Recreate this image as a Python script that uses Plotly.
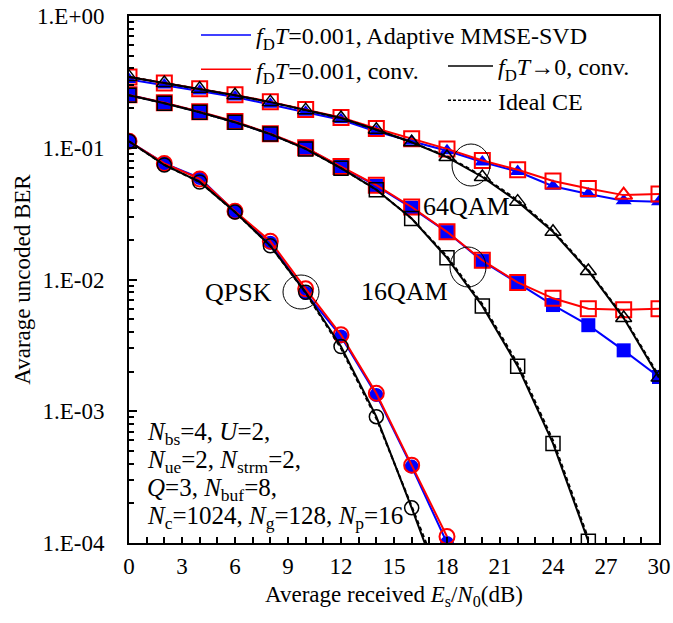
import plotly.graph_objects as go

# ---------------- data ----------------
snr = [0, 2, 4, 6, 8, 10, 12, 14, 16, 18, 20, 22, 24, 26, 28, 30]
snr_qpsk = [0, 2, 4, 6, 8, 10, 12, 14, 16, 18]
snr_16ideal = [0, 2, 4, 6, 8, 10, 12, 14, 16, 18, 20, 22, 24, 26]

qpsk_adapt = [0.112, 0.076, 0.059, 0.0325, 0.019, 0.0079, 0.0037, 0.00133, 0.00038, 0.000100]
qpsk_conv = [0.112, 0.076, 0.058, 0.033, 0.0195, 0.0085, 0.0038, 0.00137, 0.00039, 0.000112]
qpsk_zero = [0.112, 0.074, 0.055, 0.0325, 0.018, 0.0080, 0.0031, 0.00091, 0.000185, 0.000035]
qpsk_ideal = [0.112, 0.074, 0.055, 0.0325, 0.018, 0.0079, 0.0030, 0.00088, 0.00019, 0.00004]

q16_adapt = [0.251, 0.219, 0.187, 0.157, 0.127, 0.0996, 0.0714, 0.0513, 0.035, 0.0229,
             0.0138, 0.0094, 0.0064, 0.0045, 0.0029, 0.00182]
q16_conv = [0.252, 0.220, 0.188, 0.158, 0.128, 0.100, 0.072, 0.052, 0.0355, 0.023,
            0.0140, 0.0095, 0.0072, 0.0060, 0.0059, 0.0060]
q16_zero = [0.250, 0.218, 0.186, 0.156, 0.127, 0.098, 0.070, 0.048, 0.029, 0.0146,
            0.0063, 0.0022, 0.00057, 0.000103]
q16_ideal = [0.250, 0.218, 0.186, 0.156, 0.127, 0.098, 0.070, 0.048, 0.029, 0.0150,
             0.0065, 0.0023, 0.00060, 0.000108]

q64_adapt = [0.33, 0.30, 0.27, 0.243, 0.214, 0.186, 0.163, 0.133, 0.112, 0.095,
             0.078, 0.066, 0.051, 0.0446, 0.0396, 0.039]
q64_conv = [0.345, 0.31, 0.28, 0.252, 0.223, 0.195, 0.170, 0.140, 0.117, 0.098,
            0.080, 0.068, 0.056, 0.049, 0.0437, 0.0446]
q64_zero = [0.345, 0.31, 0.28, 0.25, 0.222, 0.193, 0.168, 0.137, 0.110, 0.085,
            0.060, 0.039, 0.023, 0.0116, 0.0051, 0.0018]
q64_ideal = [0.345, 0.31, 0.28, 0.25, 0.222, 0.193, 0.168, 0.137, 0.110, 0.086,
             0.061, 0.040, 0.0235, 0.0118, 0.0052, 0.00185]
q64_conv_symbols = ["square-open"] * 14 + ["triangle-up-open", "square-open"]

ytick_vals = [1, 0.1, 0.01, 0.001, 0.0001]
ytick_text = ["1.E+00", "1.E-01", "1.E-02", "1.E-03", "1.E-04"]
xtick_vals = [0, 3, 6, 9, 12, 15, 18, 21, 24, 27, 30]

legend_names = [
    "<i>f</i><sub>D</sub><i>T</i>=0.001, Adaptive MMSE-SVD",
    "<i>f</i><sub>D</sub><i>T</i>=0.001, conv.",
    "<i>f</i><sub>D</sub><i>T</i>\u21920, conv.",
    "Ideal CE",
]
param_lines = [
    "<i>N</i><sub>bs</sub>=4, <i>U</i>=2,",
    "<i>N</i><sub>ue</sub>=2, <i>N</i><sub>strm</sub>=2,",
    "<i>Q</i>=3, <i>N</i><sub>buf</sub>=8,",
    "<i>N</i><sub>c</sub>=1024, <i>N</i><sub>g</sub>=128, <i>N</i><sub>p</sub>=16",
]

BLUE = "#0000ff"
RED = "#ff0000"
BLACK = "#000000"
FONT = "Liberation Serif"

fig = go.Figure()

# blue adaptive
for xs, ys, sym in [(snr_qpsk, qpsk_adapt, "circle"), (snr, q16_adapt, "square"), (snr, q64_adapt, "triangle-up")]:
    fig.add_trace(go.Scatter(x=xs, y=ys, mode="lines+markers", showlegend=False,
                             line=dict(color=BLUE, width=2),
                             marker=dict(symbol=sym, size=14, color=BLUE, line=dict(width=0))))
# red conv
for xs, ys, sym in [(snr_qpsk, qpsk_conv, "circle-open"), (snr, q16_conv, "square-open"), (snr, q64_conv, q64_conv_symbols)]:
    fig.add_trace(go.Scatter(x=xs, y=ys, mode="lines+markers", showlegend=False,
                             line=dict(color=RED, width=2),
                             marker=dict(symbol=sym, size=15, color=RED, line=dict(width=2, color=RED))))
# black fDT->0
for xs, ys, sym in [(snr_qpsk, qpsk_zero, "circle-open"), (snr_16ideal, q16_zero, "square-open"), (snr, q64_zero, "triangle-up-open")]:
    fig.add_trace(go.Scatter(x=xs, y=ys, mode="lines+markers", showlegend=False,
                             line=dict(color=BLACK, width=2),
                             marker=dict(symbol=sym, size=14, color=BLACK, line=dict(width=1.5, color=BLACK))))
# ideal CE dashed
for xs, ys in [(snr_qpsk, qpsk_ideal), (snr_16ideal, q16_ideal), (snr, q64_ideal)]:
    fig.add_trace(go.Scatter(x=xs, y=ys, mode="lines", showlegend=False,
                             line=dict(color=BLACK, width=2, dash="4px,3px")))

# legend entries
leg_specs = [(BLUE, "solid", "legend", "a"), (RED, "solid", "legend", "b"),
             (BLACK, "solid", "legend2", "c"), (BLACK, "3px,2px", "legend2", "d")]
for name, (col, dash, leg, grp) in zip(legend_names, leg_specs):
    fig.add_trace(go.Scatter(x=[None], y=[None], mode="lines", name=name, legend=leg,
                             legendgroup=grp, line=dict(color=col, width=1.5, dash=dash)))

L, R, T, B = 129, 14, 16, 80
W, H = 673, 623
pw, ph = W - L - R, H - T - B

def px(xp):
    return (xp - L) / pw

def py(yp):
    return 1 - (yp - T) / ph

shapes = []
for cx, cy, rx, ry in [(301, 292, 18, 17), (468, 267, 18, 20), (471, 165, 19, 21)]:
    shapes.append(dict(type="circle", xref="paper", yref="paper",
                       x0=px(cx - rx), x1=px(cx + rx), y0=py(cy + ry), y1=py(cy - ry),
                       line=dict(color=BLACK, width=1)))

annotations = []
for txt, cx, cy in [("QPSK", 238, 292), ("16QAM", 404, 291), ("64QAM", 466, 206)]:
    annotations.append(dict(text=txt, x=px(cx), y=py(cy), xref="paper", yref="paper",
                            showarrow=False, xanchor="center", yanchor="middle",
                            font=dict(family=FONT, size=26, color=BLACK)))
for txt, cy in zip(param_lines, [430, 458, 486, 514]):
    annotations.append(dict(text=txt, x=px(146), y=py(cy - 13), xref="paper", yref="paper",
                            showarrow=False, xanchor="left", yanchor="top", align="left",
                            borderpad=0,
                            font=dict(family=FONT, size=25, color=BLACK)))

fig.update_layout(
    width=W, height=H,
    margin=dict(l=L, r=R, t=T, b=B, autoexpand=False),
    paper_bgcolor="white", plot_bgcolor="white",
    font=dict(family=FONT, size=23, color=BLACK),
    shapes=shapes, annotations=annotations,
    legend=dict(x=px(196), y=py(13), xanchor="left", yanchor="top", bgcolor="rgba(0,0,0,0)",
                font=dict(family=FONT, size=24, color=BLACK), itemwidth=50, tracegroupgap=0,
                traceorder="grouped"),
    legend2=dict(x=px(443), y=py(44), xanchor="left", yanchor="top", bgcolor="rgba(0,0,0,0)",
                 font=dict(family=FONT, size=24, color=BLACK), itemwidth=45, tracegroupgap=0,
                 traceorder="grouped"),
)

fig.update_xaxes(range=[0, 30], tickvals=xtick_vals, ticks="inside", ticklen=6, tickwidth=1.5,
                 tickcolor=BLACK, showline=True, linecolor=BLACK, linewidth=2, mirror=True,
                 showgrid=False, zeroline=False,
                 minor=dict(dtick=1, ticks="inside", ticklen=6, tickwidth=1.5, tickcolor=BLACK, showgrid=False),
                 tickfont=dict(family=FONT, size=23, color=BLACK), ticklabelstandoff=1,
                 title=dict(text="Average received <i>E</i><sub>s</sub>/<i>N</i><sub>0</sub>(dB)",
                            font=dict(family=FONT, size=23, color=BLACK), standoff=8))
fig.update_yaxes(type="log", range=[-4, 0], tickvals=ytick_vals, ticktext=ytick_text,
                 ticks="inside", ticklen=8, tickwidth=1.5, tickcolor=BLACK,
                 showline=True, linecolor=BLACK, linewidth=2, mirror=True,
                 showgrid=False, zeroline=False,
                 minor=dict(dtick="D1", ticks="inside", ticklen=5, tickwidth=1.5, tickcolor=BLACK, showgrid=False),
                 tickfont=dict(family=FONT, size=23, color=BLACK), ticklabelstandoff=18,
                 title=dict(text="Avarage uncoded BER", font=dict(family=FONT, size=23, color=BLACK), standoff=0))

fig.write_html("out.html")
